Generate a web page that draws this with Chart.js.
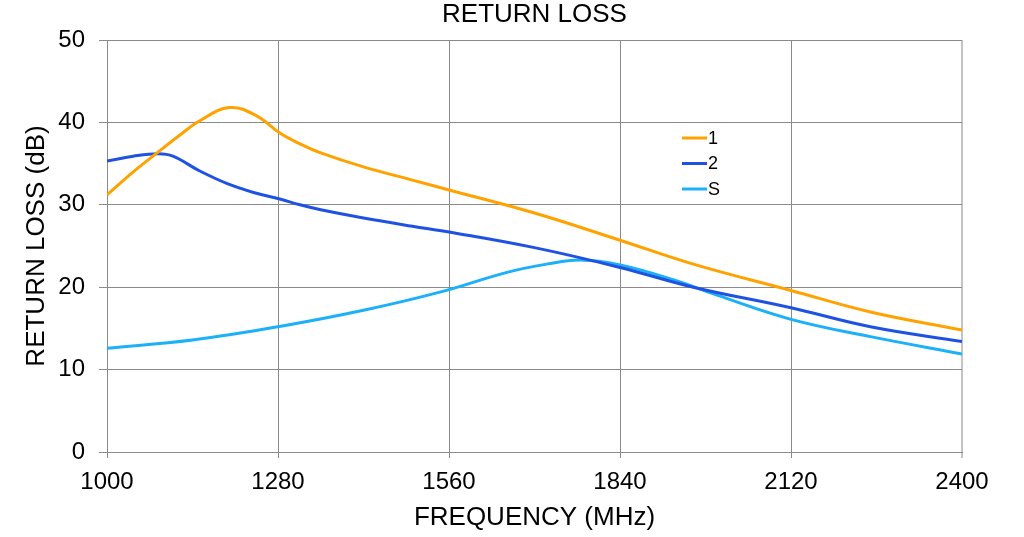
<!DOCTYPE html>
<html>
<head>
<meta charset="utf-8">
<script src="https://cdn.jsdelivr.net/npm/chart.js@4.4.1/dist/chart.umd.min.js"></script>
<style>
  html, body { margin: 0; padding: 0; background: #fff; }
  #wrap { width: 1024px; height: 537px; }
</style>
</head>
<body>
<div id="wrap"><canvas id="rlChart" width="1024" height="537"></canvas></div>
<script>
"use strict";

// frequencies (MHz) and return loss (dB)
const freq1 = [1000, 1043, 1082, 1120, 1152, 1200, 1245, 1283, 1316, 1350, 1420, 1500, 1560, 1700, 1840, 1960, 2120, 2250, 2400];
const loss1 = [31.2, 34.0, 36.3, 38.5, 40.2, 41.8, 40.8, 38.7, 37.4, 36.3, 34.6, 33.0, 31.8, 29.0, 25.7, 22.8, 19.6, 17.0, 14.8];

const freq2 = [1000, 1043, 1084, 1108, 1152, 1196, 1240, 1283, 1316, 1350, 1420, 1500, 1560, 1700, 1840, 1960, 2120, 2250, 2400];
const loss2 = [35.3, 35.9, 36.2, 35.9, 34.1, 32.6, 31.5, 30.7, 30.0, 29.4, 28.4, 27.4, 26.7, 24.8, 22.4, 20.0, 17.5, 15.2, 13.4];

const freqS = [1000, 1140, 1280, 1420, 1545, 1655, 1720, 1775, 1840, 1927, 2000, 2120, 2250, 2400];
const lossS = [12.6, 13.6, 15.2, 17.2, 19.4, 21.8, 22.8, 23.3, 22.7, 20.9, 19.0, 16.1, 14.0, 11.9];

const seriesNames = ["1", "2", "S"];
const seriesColors = ["#FFA200", "#1F52E3", "#1BB0F7"];

const xTicks = [1000, 1280, 1560, 1840, 2120, 2400];
const yTicks = [0, 10, 20, 30, 40, 50];

const FONT = "'Liberation Sans', Arial, sans-serif";

function toPoints(xs, ys) {
  return xs.map((x, i) => ({ x: x, y: ys[i] }));
}

// title centred over the plot area, legend drawn inside it
const chartText = {
  id: "chartText",
  afterDatasetsDraw(chart) {
    const ctx = chart.ctx;
    const area = chart.chartArea;
    ctx.save();
    ctx.fillStyle = "#000";
    ctx.textBaseline = "middle";
    ctx.textAlign = "center";
    ctx.font = "26px " + FONT;
    ctx.fillText("RETURN LOSS", (area.left + area.right) / 2, 15);

    ctx.textAlign = "left";
    ctx.font = "18px " + FONT;
    chart.data.datasets.forEach((ds, i) => {
      const y = 138 + i * 25.5;
      ctx.strokeStyle = ds.borderColor;
      ctx.lineWidth = 3;
      ctx.beginPath();
      ctx.moveTo(682, y);
      ctx.lineTo(707, y);
      ctx.stroke();
      ctx.fillText(ds.label, 708, y + 1);
    });
    ctx.restore();
  }
};

const datasets = [
  { label: seriesNames[0], data: toPoints(freq1, loss1), borderColor: seriesColors[0] },
  { label: seriesNames[1], data: toPoints(freq2, loss2), borderColor: seriesColors[1] },
  { label: seriesNames[2], data: toPoints(freqS, lossS), borderColor: seriesColors[2] }
].map(d => Object.assign(d, {
  borderWidth: 3,
  pointRadius: 0,
  fill: false,
  tension: 0.4
}));

Chart.defaults.font.family = FONT;
Chart.defaults.color = "#000";

let ctx = document.getElementById("rlChart").getContext("2d");

new Chart(ctx, {
  type: "line",
  data: { datasets: datasets },
  options: {
    responsive: false,
    animation: false,
    layout: { padding: { top: 40, right: 62, bottom: 0, left: 0 } },
    plugins: {
      legend: { display: false },
      tooltip: { enabled: false },
      title: { display: false }
    },
    scales: {
      x: {
        type: "linear",
        min: 1000,
        max: 2400,
        afterBuildTicks(scale) {
          scale.ticks = xTicks.map(v => ({ value: v }));
        },
        afterFit(scale) { scale.height = 85; },
        ticks: {
          font: { size: 24 },
          padding: 10,
          maxRotation: 0,
          autoSkip: false,
          callback: (v) => String(v)
        },
        grid: {
          color: (c) => c.index === xTicks.length - 1 ? "#c4c4c4" : "#8a8a8a",
          lineWidth: (c) => c.index === xTicks.length - 1 ? 2 : 1,
          tickLength: 6
        },
        border: { color: "#8a8a8a" },
        title: {
          display: true,
          text: "FREQUENCY (MHz)",
          font: { size: 26 },
          padding: { top: 0, bottom: 4 }
        }
      },
      y: {
        min: 0,
        max: 50,
        afterBuildTicks(scale) {
          scale.ticks = yTicks.map(v => ({ value: v }));
        },
        afterFit(scale) { scale.width = 107; },
        ticks: { font: { size: 24 }, padding: 14 },
        grid: { color: "#8a8a8a", lineWidth: 1, tickLength: 8 },
        border: { color: "#8a8a8a" },
        title: {
          display: true,
          text: "RETURN LOSS (dB)",
          font: { size: 26 },
          padding: { top: 21, bottom: 0 }
        }
      }
    }
  },
  plugins: [chartText]
});
</script>
</body>
</html>
